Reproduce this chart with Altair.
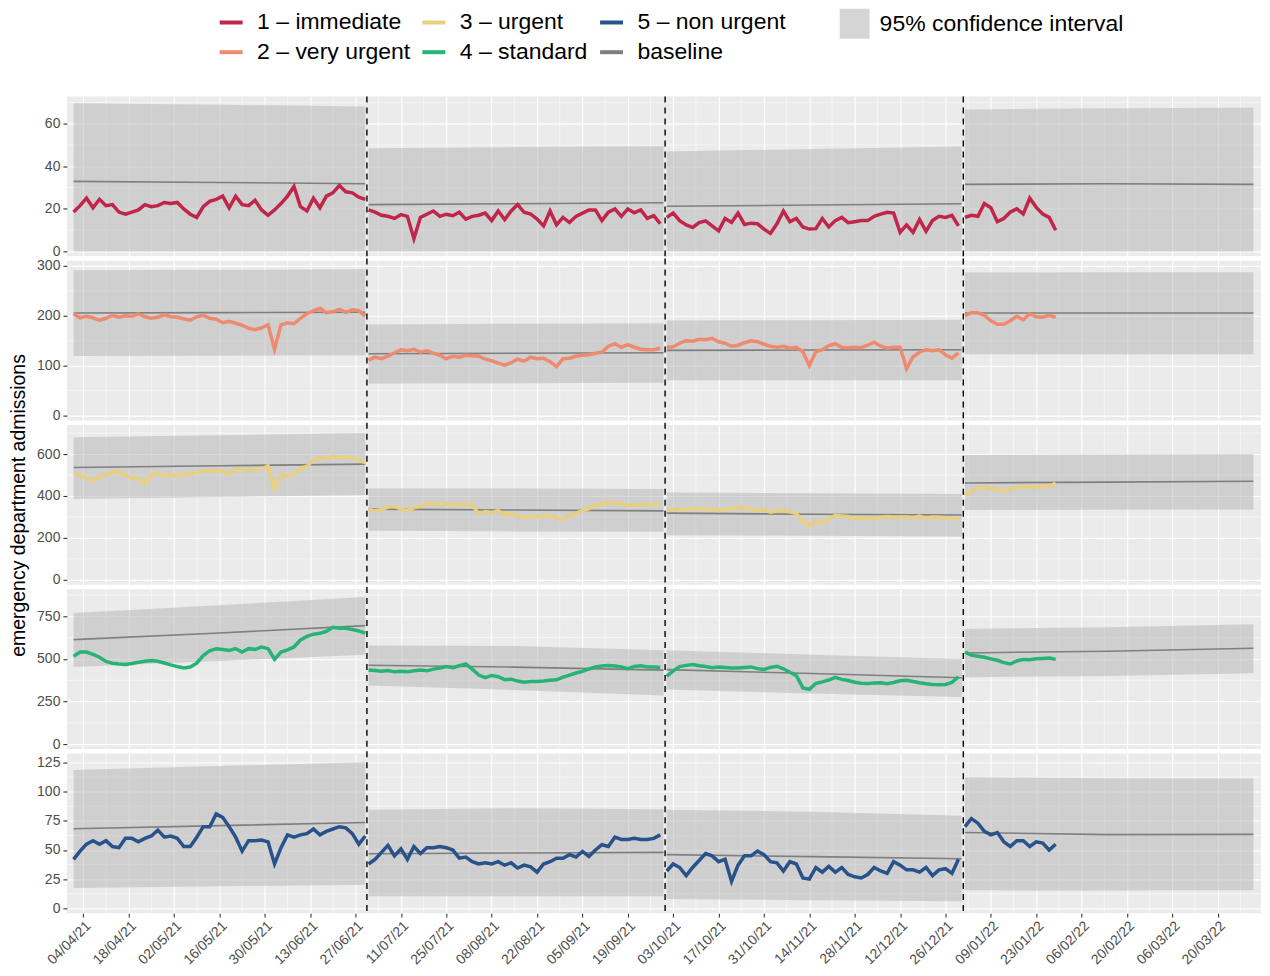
import altair as alt
import pandas as pd

# ---------------- categories / colours ----------------
series_names = ["1 – immediate", "2 – very urgent", "3 – urgent", "4 – standard", "5 – non urgent"]
series_colors = ["#C0264A", "#EE8A6D", "#E8D07F", "#27B376", "#28528A"]
baseline_name = "baseline"
baseline_color = "#7F7F7F"
ci_name = "95% confidence interval"
y_title_text = "emergency department admissions"

quarter_starts = ["2021-04-01", "2021-07-01", "2021-10-01", "2022-01-01"]
quarter_breaks = ["2021-06-30T12:00", "2021-09-30T12:00", "2021-12-31T12:00"]
band_dates = ["2021-04-01", "2021-05-16", "2021-06-30",
              "2021-07-01", "2021-08-15", "2021-09-30",
              "2021-10-01", "2021-11-15", "2021-12-31",
              "2022-01-01", "2022-02-14", "2022-03-31"]

# ---------------- observed admissions (read every 2nd day) ----------------
immediate_q1 = [18.5, 21.5, 25, 20.5, 24.5, 21.5, 22, 18.5, 17.5, 18.5, 19.5, 22, 21, 21.5, 23, 22.5, 23, 20, 17.5, 16,
                21, 23.5, 24.5, 26, 20.5, 26, 22, 21.5, 24, 19.5, 17, 19.5, 22.5, 26, 30.5, 21, 19, 25, 20.5, 26,
                27.5, 31, 28, 27.5, 25.5, 24.5]
immediate_q2 = [19.5, 18.5, 17, 16.5, 15.5, 17.3, 16.5, 6, 16, 17.5, 19, 16.5, 17.5, 16.8, 18.4, 15.2, 16.5, 17, 18, 14.5,
                19, 15, 19, 22, 18.4, 17.6, 15.2, 12, 19, 12.5, 16, 13.6, 16.5, 18, 19.5, 19.5, 14.5, 18.5, 20, 16.5,
                20, 18.2, 19.5, 15.5, 16.8, 13]
immediate_q3 = [16, 18, 14.5, 12.5, 11.3, 13.6, 14.4, 12, 9.7, 15.5, 13.6, 18, 12.7, 13.3, 13, 10.5, 8.5, 13, 19, 14,
                15.5, 11.5, 10.5, 10.7, 15.5, 11.5, 14.5, 16, 13.5, 14, 14.5, 14.5, 16.5, 17.5, 18.4, 18, 9, 12.5, 9, 15,
                9.5, 14.5, 16.5, 16, 17, 12]
immediate_q4 = [16, 17, 16.5, 22.5, 20.5, 14, 15.5, 18.5, 20, 17.6, 25, 20.7, 17.6, 16, 10]

very_urgent_q1 = [204, 196, 199, 196, 191, 195, 201, 197, 200, 199, 204, 198, 195, 197, 202, 198, 197, 194, 191, 198,
                  201, 195, 193, 186, 189, 185, 181, 175, 172, 176, 182, 133, 182, 186, 184, 195, 204, 210, 215, 206,
                  208, 213, 207, 212, 210, 200]
very_urgent_q2 = [111, 117, 114, 119, 126, 132, 130, 133, 127, 130, 125, 121, 114, 119, 117, 121, 120, 119, 113, 110,
                  105, 101, 106, 113, 109, 117, 114, 115, 108, 98, 114, 115, 119, 121, 122, 125, 127, 139, 144, 137,
                  142, 137, 133, 132, 132, 135]
very_urgent_q3 = [137, 138, 145, 150, 149, 153, 152, 155, 148, 145, 139, 141, 146, 150, 148, 143, 139, 137, 139, 135,
                  137, 128, 100, 128, 132, 140, 144, 137, 136, 137, 136, 141, 147, 139, 135, 137, 137, 94, 118, 127,
                  132, 130, 132, 122, 115, 126]
very_urgent_q4 = [200, 206, 206, 201, 190, 183, 183, 190, 199, 192, 204, 198, 197, 201, 197]

urgent_q1 = [509, 500, 484, 473, 492, 500, 514, 515, 500, 484, 482, 458, 500, 509, 495, 500, 497, 507, 503, 514,
             521, 517, 522, 516, 505, 526, 530, 520, 528, 528, 544, 432, 500, 496, 503, 531, 542, 570, 582, 580,
             590, 584, 588, 579, 573, 557]
urgent_q2 = [335, 328, 335, 347, 350, 337, 331, 343, 352, 362, 365, 360, 365, 358, 356, 360, 357, 315, 326, 320,
             330, 310, 315, 303, 298, 302, 302, 302, 309, 294, 288, 305, 318, 330, 340, 356, 362, 367, 369, 362,
             356, 356, 357, 357, 360, 365]
urgent_q3 = [334, 336, 338, 335, 337, 341, 335, 340, 331, 337, 340, 344, 344, 337, 332, 334, 322, 328, 328, 324,
             316, 278, 260, 275, 275, 290, 308, 305, 302, 291, 296, 294, 296, 298, 302, 298, 300, 300, 296, 304,
             294, 300, 298, 296, 293, 290]
urgent_q4 = [404, 422, 438, 442, 437, 430, 422, 435, 440, 446, 444, 440, 446, 445, 462]

standard_q1 = [516, 540, 540, 526, 510, 485, 475, 470, 467, 473, 480, 486, 490, 486, 476, 465, 455, 447, 452, 475,
               520, 548, 560, 555, 550, 560, 540, 560, 556, 570, 560, 498, 540, 553, 570, 611, 632, 645, 650, 662,
               685, 680, 680, 672, 664, 651]
standard_q2 = [435, 432, 427, 432, 424, 428, 424, 430, 435, 430, 440, 446, 455, 448, 460, 470, 440, 405, 390, 403,
               396, 378, 381, 370, 363, 367, 367, 370, 375, 377, 393, 405, 417, 427, 441, 452, 458, 461, 458, 452,
               443, 455, 460, 452, 453, 450]
standard_q3 = [398, 430, 455, 462, 467, 460, 455, 448, 452, 450, 447, 447, 450, 453, 443, 438, 450, 457, 442, 422,
               402, 330, 322, 356, 365, 376, 392, 380, 373, 363, 357, 355, 358, 360, 355, 362, 372, 375, 367, 360,
               354, 350, 348, 350, 362, 395]
standard_q4 = [540, 522, 516, 510, 500, 492, 478, 470, 488, 497, 495, 501, 503, 505, 497]

non_urgent_q1 = [42, 49, 55, 58, 55, 58, 53, 52, 60, 60, 57, 60, 62, 67, 61, 62, 60, 53, 53, 61,
                 70, 70, 81, 78, 70, 61, 49, 58, 58, 58.5, 57, 38, 52, 63, 61, 63, 64, 68, 63, 66,
                 68, 70, 69, 64, 55, 62]
non_urgent_q2 = [38, 42, 48, 54, 45, 51, 42, 53, 47, 52, 52, 53, 52, 50, 43, 44, 40, 38, 39, 38,
                 40, 37, 39, 34.5, 37, 35.5, 31, 38, 40, 43, 43, 46, 44, 48.8, 44.5, 50, 54.5, 53, 61, 59,
                 59, 60, 59, 59, 60, 63]
non_urgent_q3 = [32, 38, 35, 28, 35, 41, 47, 45, 40, 42, 23, 37, 45, 45, 49, 46, 40, 39, 32, 40,
                 38, 26, 25, 35, 31, 36, 31, 35, 29, 27, 26, 29, 35, 32, 30, 40, 37, 33, 33, 31,
                 35, 28, 33, 34, 30, 42]
non_urgent_q4 = [70, 77, 73, 66, 63, 65, 57, 53, 58, 58, 53, 57, 56, 50, 55]

# ---------------- baselines and 95% intervals (quarter start / middle / end) ----------------
immediate_base = [32.9, 32.4, 31.8, 22.0, 22.4, 22.9, 21.2, 21.8, 22.4, 31.5, 31.8, 31.5]
immediate_low = [0, 0, 0, 0, 0, 0, 0, 0, 0, 0, 0, 0]
immediate_high = [69.6, 68.9, 68.1, 48.5, 49.0, 49.4, 46.9, 48.1, 49.3, 66.7, 67.3, 67.5]

very_urgent_base = [205.7, 206.3, 207, 124, 125, 126, 130.7, 131.3, 132, 205.7, 205.7, 205.7]
very_urgent_low = [119.4, 120, 120.8, 64.4, 65, 65.7, 71, 71, 71, 122.8, 122.8, 122.8]
very_urgent_high = [291, 292, 293, 182.5, 184, 185, 190.4, 191, 191.8, 286.7, 287, 287]

urgent_base = [536, 544, 552, 337, 333, 329, 318, 313, 309, 462, 466, 470]
urgent_low = [385, 395, 404, 234, 231, 229, 213, 210, 207, 333, 334, 335]
urgent_high = [680, 690, 700, 436, 435, 433, 417, 413, 409, 595, 598, 600]

standard_base = [613, 652, 695, 463, 452, 434, 437, 414, 389, 535, 545, 562]
standard_low = [453, 488, 525, 344, 318, 285, 320, 297, 277, 393, 400, 416]
standard_high = [769, 815, 863, 578, 575, 551, 551, 525, 500, 676, 685, 703]

non_urgent_base = [68.2, 70.9, 73.6, 46.8, 47.4, 48, 46, 44.3, 42.5, 65, 63.2, 63.4]
non_urgent_low = [17.4, 18.9, 20.3, 10.3, 10.3, 10.3, 8, 7, 6, 15.4, 15.2, 15.4]
non_urgent_high = [118.7, 122, 125.3, 84.5, 85.9, 85, 84.5, 82.8, 79.3, 112.4, 111.5, 111.3]

# ---------------- axes ----------------
y_domains = [[-2.3, 72.7], [-10, 310], [-24, 738], [-29, 908], [-4.3, 132.7]]
y_ticks = [[0, 20, 40, 60], [0, 100, 200, 300], [0, 200, 400, 600], [0, 250, 500, 750], [0, 25, 50, 75, 100, 125]]
y_minor = [[10, 30, 50, 70], [50, 150, 250], [100, 300, 500, 700], [125, 375, 625, 875],
           [12.5, 37.5, 62.5, 87.5, 112.5]]
x_domain_dates = ["2021-03-29T22:40", "2022-04-02T08:16"]
x_major_start, x_major_end = "2021-04-04", "2022-03-20"
x_minor_start, x_minor_end = "2021-04-11", "2022-03-27"

# ---------------- build tables ----------------
DAY = 86400000


def ms(s):
    return int(pd.Timestamp(s, tz="UTC").value // 10**6)


obs = {
    series_names[0]: [immediate_q1, immediate_q2, immediate_q3, immediate_q4],
    series_names[1]: [very_urgent_q1, very_urgent_q2, very_urgent_q3, very_urgent_q4],
    series_names[2]: [urgent_q1, urgent_q2, urgent_q3, urgent_q4],
    series_names[3]: [standard_q1, standard_q2, standard_q3, standard_q4],
    series_names[4]: [non_urgent_q1, non_urgent_q2, non_urgent_q3, non_urgent_q4],
}
bands = {
    series_names[0]: (immediate_base, immediate_low, immediate_high),
    series_names[1]: (very_urgent_base, very_urgent_low, very_urgent_high),
    series_names[2]: (urgent_base, urgent_low, urgent_high),
    series_names[3]: (standard_base, standard_low, standard_high),
    series_names[4]: (non_urgent_base, non_urgent_low, non_urgent_high),
}

obs_rows = []
for name, quarters in obs.items():
    for q, vals in enumerate(quarters):
        t0 = ms(quarter_starts[q])
        for k, v in enumerate(vals):
            obs_rows.append({"date": t0 + 2 * k * DAY, "value": v, "series": name, "quarter": q})
obs_df = pd.DataFrame(obs_rows)

band_rows = []
for name, (b, lo, hi) in bands.items():
    for j, d in enumerate(band_dates):
        band_rows.append({"date": ms(d), "base": b[j], "low": lo[j], "high": hi[j], "panel": name,
                          "quarter": j // 3, "series": baseline_name, "ci": ci_name})
band_df = pd.DataFrame(band_rows)

major_ms = [ms(d) for d in pd.date_range(x_major_start, x_major_end, freq="14D")]
minor_ms = [ms(d) for d in pd.date_range(x_minor_start, x_minor_end, freq="14D")]
break_ms = [ms(d) for d in quarter_breaks]
x_domain = [ms(d) for d in x_domain_dates]

legend_order = series_names + [baseline_name]
legend_colors = series_colors + [baseline_color]
color_scale = alt.Scale(domain=legend_order, range=legend_colors)
fill_scale = alt.Scale(domain=[ci_name], range=["#B3B3B3"])

W, H, GAP = 1196, 160, 4.5
TOP = 88  # distance from top of legends to top of first panel

legend_color = alt.Legend(orient="none", legendX=151, legendY=-TOP, columns=3, title=None,
                          symbolType="stroke", symbolSize=529, symbolStrokeWidth=4,
                          labelFontSize=23, labelColor="black", labelOffset=12.5,
                          columnPadding=4, rowPadding=4, labelLimit=500, padding=0)
legend_fill = alt.Legend(orient="none", legendX=774, legendY=-TOP, title=None,
                         symbolType="square", symbolSize=900, symbolStrokeWidth=0, symbolOpacity=0.55,
                         labelFontSize=23, labelColor="black", labelOffset=10, labelLimit=500, padding=0)


def make_panel(i):
    name = series_names[i]
    last = i == 4
    xs = alt.Scale(type="utc", domain=x_domain, nice=False)
    ys = alt.Scale(domain=y_domains[i], nice=False, zero=False)
    if last:
        x_axis = alt.Axis(values=major_ms, grid=True, gridColor="white", gridWidth=1.1, domain=False,
                          labels=True, ticks=True, title=None, labelAngle=-45, labelAlign="right",
                          labelBaseline="top", labelExpr="utcFormat(datum.value, '%d/%m/%y')",
                          labelFontSize=14, labelColor="#4D4D4D", labelOverlap=False, labelFlush=False,
                          tickColor="#333333", tickSize=3.7, tickWidth=1.1, labelPadding=1.5)
    else:
        x_axis = alt.Axis(values=major_ms, grid=True, gridColor="white", gridWidth=1.1, domain=False,
                          labels=False, ticks=False, title=None)
    if i == 2:
        y_title = y_title_text
        y_axis = alt.Axis(values=y_ticks[i], grid=True, gridColor="white", gridWidth=1.1, domain=False,
                          tickColor="#333333", tickSize=4, tickWidth=1.1, labelColor="#4D4D4D",
                          labelFontSize=14, labelPadding=3, labelOverlap=False, labelFlush=False,
                          title=y_title, titleFontSize=19.5, titleFontWeight="normal", titleColor="black",
                          titleX=-38.5, titleY=H / 2, titleAngle=270, titleBaseline="bottom", titleAlign="center")
    else:
        y_title = None
        y_axis = alt.Axis(values=y_ticks[i], grid=True, gridColor="white", gridWidth=1.1, domain=False,
                          tickColor="#333333", tickSize=4, tickWidth=1.1, labelColor="#4D4D4D",
                          labelFontSize=14, labelPadding=3, labelOverlap=False, labelFlush=False, title=None)

    def xe(f):
        return alt.X(f"{f}:T", scale=xs, axis=x_axis, title=None)

    def ye(f):
        return alt.Y(f"{f}:Q", scale=ys, axis=y_axis, title=y_title)

    sdf = obs_df[obs_df["series"] == name]
    bdf = band_df[band_df["panel"] == name]

    ygrid = alt.Chart(pd.DataFrame({"v": y_minor[i]})).mark_rule(color="white", strokeWidth=0.55).encode(y=ye("v"))
    xgrid = alt.Chart(pd.DataFrame({"d": minor_ms})).mark_rule(color="white", strokeWidth=0.55).encode(x=xe("d"))
    band = alt.Chart(bdf).mark_area(opacity=0.5).encode(
        x=xe("date"), y=ye("low"), y2=alt.Y2("high:Q"),
        fill=alt.Fill("ci:N", scale=fill_scale, legend=legend_fill), detail="quarter:N")
    base = alt.Chart(bdf).mark_line(strokeWidth=1.6).encode(
        x=xe("date"), y=ye("base"),
        color=alt.Color("series:N", scale=color_scale, legend=legend_color), detail="quarter:N")
    line = alt.Chart(sdf).mark_line(strokeWidth=3.5).encode(
        x=xe("date"), y=ye("value"),
        color=alt.Color("series:N", scale=color_scale, legend=legend_color), detail="quarter:N")
    y0 = 0 if i == 0 else -GAP / 2
    y1 = H if last else H + GAP / 2
    dash = alt.Chart(pd.DataFrame({"d": break_ms})).mark_rule(
        color="black", strokeWidth=1.4, strokeDash=[6, 5]).encode(
        x=xe("d"), y=alt.value(y0), y2=alt.value(y1))
    return alt.layer(ygrid, xgrid, band, base, line, dash).properties(width=W, height=H)


panels = [make_panel(i) for i in range(5)]

chart = alt.vconcat(*panels, spacing=GAP, bounds="flush").resolve_scale(
    color="shared", fill="shared").properties(
    padding={"left": 0, "top": 0, "right": 0, "bottom": 0}).configure(
    font="Liberation Sans").configure_view(fill="#EBEBEB", stroke=None)

chart.save("out.html", embed_options={"renderer": "svg", "actions": False})
